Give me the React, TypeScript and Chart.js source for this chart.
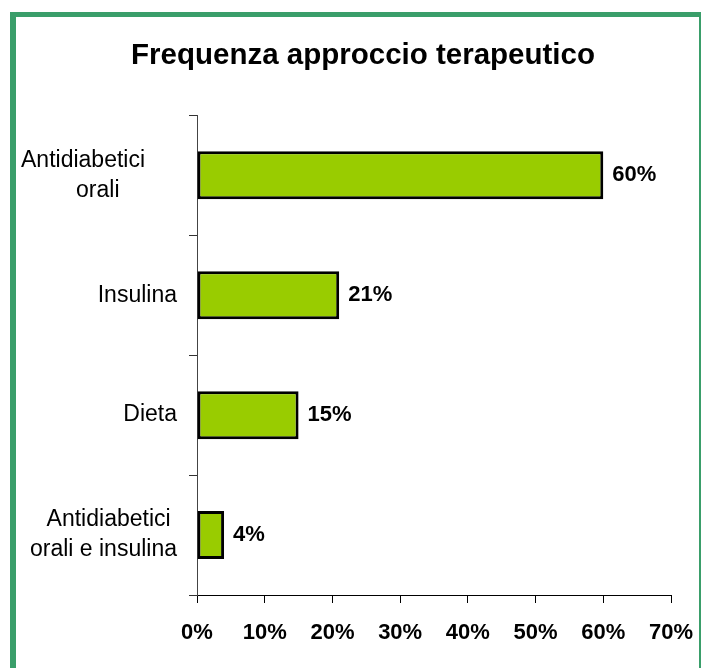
import React, { useEffect, useRef } from "react";
import { Chart, registerables } from "chart.js";

Chart.register(...registerables);

const FONT = "'Liberation Sans', Arial, Helvetica, sans-serif";

const chartTitle = "Frequenza approccio terapeutico";
const categories: string[][] = [
  ["Antidiabetici     ", "orali         "],
  ["Insulina"],
  ["Dieta"],
  ["Antidiabetici ", "orali e insulina"],
];
const values: number[] = [60, 21, 15, 4];
const xMin = 0;
const xMax = 70;
const xStep = 10;

const framePlugin = {
  id: "frame",
  afterLayout(chart: any) {
    // let the category labels overflow to the left of the axis box (no clipping)
    const y = chart.scales.y;
    if (y) y.left = 0;
  },
  beforeDraw(chart: any) {
    const { ctx, width, height } = chart;
    ctx.save();
    ctx.fillStyle = "#ffffff";
    ctx.fillRect(0, 0, width, height);
    ctx.fillStyle = "rgb(58,158,106)";
    ctx.fillRect(10, 12, 6, height - 12);
    ctx.fillRect(10, 12, width - 10, 5);
    ctx.fillRect(699, 12, 2, height - 12);
    ctx.restore();
  },
};

const valueLabelPlugin = {
  id: "valueLabels",
  afterDatasetsDraw(chart: any) {
    const { ctx } = chart;
    const meta = chart.getDatasetMeta(0);
    ctx.save();
    ctx.font = `bold 22px ${FONT}`;
    ctx.fillStyle = "#000";
    ctx.textAlign = "left";
    ctx.textBaseline = "middle";
    meta.data.forEach((bar: any, i: number) => {
      ctx.fillText(values[i] + "%", bar.x + 9, bar.y);
    });
    ctx.restore();
  },
};

export default function App() {
  const ref = useRef<HTMLCanvasElement | null>(null);

  useEffect(() => {
    if (!ref.current) return;
    const chart = new Chart(ref.current, {
      type: "bar",
      data: {
        labels: categories,
        datasets: [
          {
            data: values,
            backgroundColor: "#99cc00",
            borderColor: "#000000",
            borderWidth: 3,
            borderSkipped: false,
            barPercentage: 0.4,
            categoryPercentage: 1,
          },
        ],
      },
      options: {
        indexAxis: "y",
        responsive: false,
        animation: false,
        devicePixelRatio: 1,
        layout: { padding: { left: 25, right: 0, top: 0, bottom: 0 } },
        plugins: {
          legend: { display: false },
          tooltip: { enabled: false },
          title: {
            display: true,
            text: chartTitle,
            color: "#000",
            font: { family: FONT, size: 29.5, weight: "bold" },
            padding: { top: 38, bottom: 42 },
          },
        },
        scales: {
          x: {
            min: xMin,
            max: xMax,
            grid: {
              drawOnChartArea: false,
              drawTicks: true,
              tickLength: 8,
              color: "#000",
            },
            border: { display: true, color: "#000", width: 1 },
            ticks: {
              stepSize: xStep,
              maxRotation: 0,
              autoSkip: false,
              padding: 17,
              color: "#000",
              font: { family: FONT, size: 22, weight: "bold" },
              callback: (v: any) => v + "%",
            },
            afterFit: (s: any) => {
              s.height = 73;
              s.paddingLeft = 0;
              s.paddingRight = 30;
            },
          },
          y: {
            grid: {
              drawOnChartArea: false,
              drawTicks: true,
              tickLength: 8,
              color: "#333",
              offset: true,
            },
            border: { display: true, color: "#444", width: 1 },
            ticks: {
              padding: 12,
              color: "#000",
              crossAlign: "near",
              font: { family: FONT, size: 23, lineHeight: 1.3 },
            },
            afterFit: (s: any) => {
              s.width = 172;
            },
          },
        },
      },
      plugins: [framePlugin, valueLabelPlugin],
    });
    return () => chart.destroy();
  }, []);

  return (
    <div style={{ position: "fixed", left: 0, top: 0, width: 701, height: 668, background: "#fff" }}>
      <canvas ref={ref} width={701} height={668} style={{ width: 701, height: 668, display: "block" }} />
    </div>
  );
}
